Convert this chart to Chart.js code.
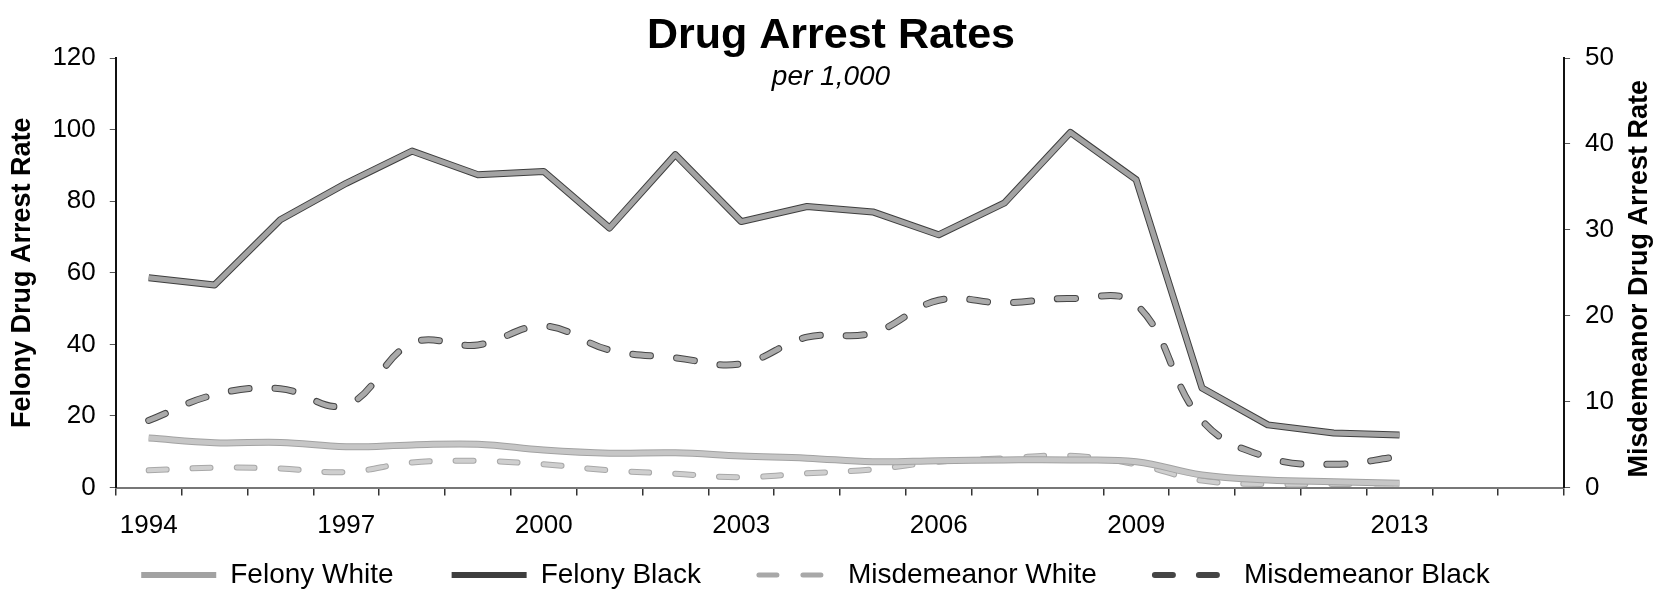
<!DOCTYPE html>
<html>
<head>
<meta charset="utf-8">
<script src="https://cdn.jsdelivr.net/npm/chart.js@4.4.1/dist/chart.umd.min.js"></script>
<style>
  html, body { margin: 0; padding: 0; background: #fff; }
  #wrap { width: 1654px; height: 589px; }
</style>
</head>
<body>
<div id="wrap"><canvas id="drugArrests"></canvas></div>
<script>
// axis runs two years past the data
const years = ['1994','1995','1996','1997','1998','1999','2000','2001','2002','2003','2004',
               '2005','2006','2007','2008','2009','2010','2011','2012','2013','2014','2015'];
const shownYears = ['1994','1997','2000','2003','2006','2009','2013'];

// felony rates, left axis
const felonyWhite = [13.8, 12.5, 12.6, 11.4, 11.9, 12.1, 10.5, 9.6, 9.7, 8.8, 8.2, 7.2, 7.5, 7.7, 7.7, 7.2, 3.5, 2.1, 1.6, 1.2];
const felonyBlack = [58.6, 56.6, 74.8, 85.0, 94.0, 87.4, 88.3, 72.5, 93.0, 74.3, 78.5, 77.0, 70.6, 79.5, 99.2, 86.0, 27.8, 17.5, 15.2, 14.7];
// misdemeanor rates, right axis
const misdWhite = [2.0, 2.3, 2.2, 1.8, 2.9, 3.1, 2.7, 2.0, 1.6, 1.2, 1.65, 2.1, 3.0, 3.4, 3.7, 2.7, 0.8, 0.4, 0.4, 0.5];
const misdBlack = [7.8, 10.8, 11.5, 9.6, 16.8, 16.6, 18.8, 16.0, 15.1, 14.4, 17.5, 18.0, 21.8, 21.5, 22.0, 21.3, 7.8, 3.5, 2.7, 3.6];

const leftTicks = [0, 20, 40, 60, 80, 100, 120];
const rightTicks = [0, 10, 20, 30, 40, 50];

const FONT = '"Liberation Sans", Arial, sans-serif';
Chart.defaults.font.family = FONT;
Chart.defaults.color = '#000';

// title, subtitle and the right axis title (which reads bottom-to-top here)
const textPlugin = {
  id: 'textPlugin',
  afterDraw(chart) {
    const ctx = chart.ctx, area = chart.chartArea;
    const cx = chart.width / 2 + 4;
    ctx.save();
    ctx.fillStyle = '#000';
    ctx.textAlign = 'center';
    ctx.textBaseline = 'alphabetic';
    ctx.font = 'bold 43px ' + FONT;
    ctx.fillText('Drug Arrest Rates', cx, 48);
    ctx.font = 'italic 28px ' + FONT;
    ctx.fillText('per 1,000', cx, 85);
    ctx.translate(chart.width - 14, (area.top + area.bottom) / 2 + 6);
    ctx.rotate(-Math.PI / 2);
    ctx.textBaseline = 'middle';
    ctx.font = 'bold 27px ' + FONT;
    ctx.fillText('Misdemeanor Drug Arrest Rate', 0, 0);
    ctx.restore();
  }
};

// darker edge under each line, like the printed original
const outlinePlugin = {
  id: 'outlinePlugin',
  beforeDatasetDraw(chart, args) {
    const ds = chart.data.datasets[args.index];
    const line = args.meta.dataset;
    if (!ds.outlineColor || !line) return;
    const ctx = chart.ctx;
    ctx.save();
    ctx.strokeStyle = ds.outlineColor;
    ctx.lineWidth = ds.borderWidth + 2;
    ctx.lineCap = ds.borderCapStyle || 'butt';
    ctx.lineJoin = 'round';
    ctx.setLineDash(ds.borderDash || []);
    ctx.beginPath();
    line.path(ctx);
    ctx.stroke();
    ctx.restore();
  }
};

new Chart(document.getElementById('drugArrests'), {
  type: 'line',
  data: {
    labels: years,
    datasets: [
      { label: 'Felony White', data: felonyWhite, yAxisID: 'y',
        borderColor: '#c6c6c6', outlineColor: '#a2a2a2', borderWidth: 5,
        tension: 0.4, pointRadius: 0 },
      { label: 'Felony Black', data: felonyBlack, yAxisID: 'y',
        borderColor: '#a3a3a3', outlineColor: '#3e3e3e', borderWidth: 5,
        borderJoinStyle: 'round', tension: 0, pointRadius: 0 },
      { label: 'Misdemeanor White', data: misdWhite, yAxisID: 'y1',
        borderColor: '#cfcfcf', outlineColor: '#a8a8a8', borderWidth: 4,
        borderDash: [18, 26], borderCapStyle: 'round', tension: 0.4, pointRadius: 0 },
      { label: 'Misdemeanor Black', data: misdBlack, yAxisID: 'y1',
        borderColor: '#aaaaaa', outlineColor: '#454545', borderWidth: 5,
        borderDash: [18, 26], borderCapStyle: 'round', tension: 0.4, pointRadius: 0 }
    ]
  },
  options: {
    responsive: true,
    maintainAspectRatio: false,
    animation: false,
    layout: { padding: { top: 58, left: 2, right: 25, bottom: 0 } },
    plugins: {
      title: { display: false },
      tooltip: { enabled: false },
      legend: {
        position: 'bottom',
        maxHeight: 86,
        labels: {
          font: { size: 28 },
          usePointStyle: true,
          pointStyle: 'line',
          pointStyleWidth: 75,
          padding: 58,
          generateLabels: chart =>
            Chart.defaults.plugins.legend.labels.generateLabels(chart).map(item => {
              const ds = chart.data.datasets[item.datasetIndex];
              item.lineDash = ds.borderDash || [];
              item.lineCap = ds.borderCapStyle || 'butt';
              item.strokeStyle = ds.outlineColor;
              item.lineWidth = ds.borderWidth + 1;
              return item;
            })
        }
      }
    },
    scales: {
      x: {
        offset: true,
        grid: { offset: true, drawOnChartArea: false, tickLength: 8, color: '#333', lineWidth: 1.5 },
        border: { color: '#777', width: 2 },
        ticks: {
          autoSkip: false, maxRotation: 0, padding: 15,
          font: { size: 26 },
          callback: function (val) {
            const lab = this.getLabelForValue(val);
            return shownYears.includes(lab) ? lab : '';
          }
        },
        // the legend sits close under the year labels, so the axis box is kept thin
        // and its labels are allowed to draw below it
        afterFit: scale => {
          scale.height = 15.5;
          scale._computeLabelArea = () => undefined;
        }
      },
      y: {
        position: 'left',
        min: leftTicks[0], max: leftTicks[leftTicks.length - 1],
        grid: { drawOnChartArea: false, tickLength: 6, color: '#555' },
        border: { color: '#111', width: 2 },
        ticks: { stepSize: leftTicks[1] - leftTicks[0], padding: 14, font: { size: 26 } },
        title: {
          display: true, text: 'Felony Drug Arrest Rate',
          font: { size: 27, weight: 'bold' }, padding: { top: 4, bottom: 0 }
        }
      },
      y1: {
        position: 'right',
        min: rightTicks[0], max: rightTicks[rightTicks.length - 1],
        grid: { drawOnChartArea: false, tickLength: 6, color: '#555' },
        border: { color: '#111', width: 2 },
        ticks: { stepSize: rightTicks[1] - rightTicks[0], padding: 15, font: { size: 26 } }
      }
    }
  },
  plugins: [textPlugin, outlinePlugin]
});
</script>
</body>
</html>
